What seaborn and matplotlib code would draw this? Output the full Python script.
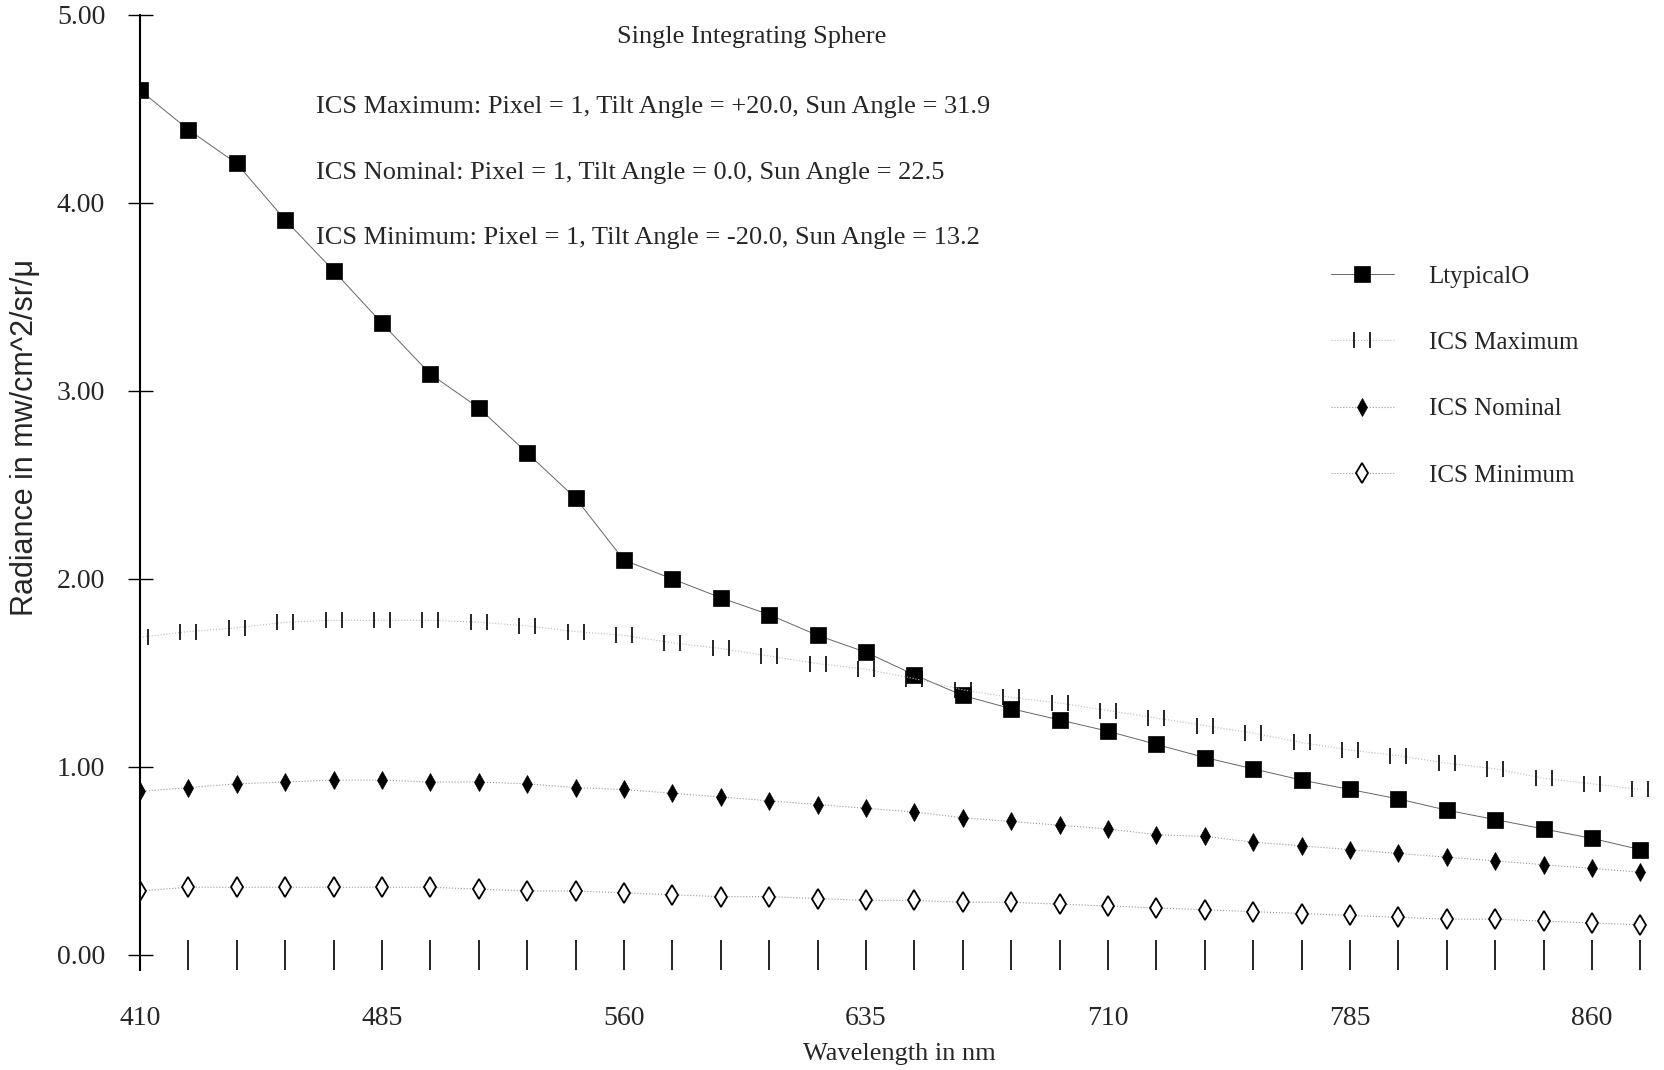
import matplotlib
matplotlib.use("Agg")
import matplotlib.pyplot as plt
from matplotlib.path import Path
import seaborn as sns

# wavelength in nm, one point every 15 nm
wavelength = [410, 425, 440, 455, 470, 485, 500, 515, 530, 545, 560, 575, 590, 605, 620, 635,
              650, 665, 680, 695, 710, 725, 740, 755, 770, 785, 800, 815, 830, 845, 860, 875]

# radiance in mw/cm^2/sr/u
ltypical = [4.60, 4.39, 4.21, 3.91, 3.64, 3.36, 3.09, 2.91, 2.67, 2.43, 2.10, 2.00, 1.90, 1.81, 1.70, 1.61,
            1.49, 1.38, 1.31, 1.25, 1.19, 1.12, 1.05, 0.99, 0.93, 0.88, 0.83, 0.77, 0.72, 0.67, 0.62, 0.56]
ics_max = [1.69, 1.72, 1.74, 1.77, 1.78, 1.78, 1.78, 1.77, 1.75, 1.72, 1.70, 1.66, 1.63, 1.59, 1.55, 1.52,
           1.47, 1.41, 1.37, 1.34, 1.30, 1.26, 1.22, 1.18, 1.13, 1.09, 1.06, 1.02, 0.99, 0.94, 0.91, 0.88]
ics_nom = [0.87, 0.89, 0.91, 0.92, 0.93, 0.93, 0.92, 0.92, 0.91, 0.89, 0.88, 0.86, 0.84, 0.82, 0.80, 0.78,
           0.76, 0.73, 0.71, 0.69, 0.67, 0.64, 0.63, 0.60, 0.58, 0.56, 0.54, 0.52, 0.50, 0.48, 0.46, 0.44]
ics_min = [0.34, 0.36, 0.36, 0.36, 0.36, 0.36, 0.36, 0.35, 0.34, 0.34, 0.33, 0.32, 0.31, 0.31, 0.30, 0.29,
           0.29, 0.28, 0.28, 0.27, 0.26, 0.25, 0.24, 0.23, 0.22, 0.21, 0.20, 0.19, 0.19, 0.18, 0.17, 0.16]

x_labels = ["410", "485", "560", "635", "710", "785", "860"]
y_ticks = [0, 1, 2, 3, 4, 5]

notes = ["ICS Maximum: Pixel = 1, Tilt Angle = +20.0, Sun Angle = 31.9",
         "ICS Nominal: Pixel = 1, Tilt Angle = 0.0, Sun Angle = 22.5",
         "ICS Minimum: Pixel = 1, Tilt Angle = -20.0, Sun Angle = 13.2"]

sns.set_style("ticks")
plt.rcParams['font.family'] = ['Liberation Serif', 'DejaVu Serif']

fig = plt.figure(figsize=(16.64, 10.70), dpi=100)
ax = fig.add_axes([0.0841, 0.0935, 0.9114, 0.8925])

# open-square marker that only shows its two sides, like the scan
bars = Path([(-1, -1), (-1, 1), (1, -1), (1, 1)],
            [Path.MOVETO, Path.LINETO, Path.MOVETO, Path.LINETO])

sns.lineplot(x=wavelength, y=ltypical, ax=ax, color='#666666', lw=0.7,
             marker='s', markersize=11.5, markerfacecolor='black', markeredgecolor='black',
             markeredgewidth=0.5, label='LtypicalO')
sns.lineplot(x=wavelength, y=ics_max, ax=ax, color='#bbbbbb', lw=0.8, linestyle=':',
             marker=bars, markersize=11, markeredgecolor='black', markeredgewidth=1.2,
             label='ICS Maximum')
sns.lineplot(x=wavelength, y=ics_nom, ax=ax, color='#999999', lw=0.8, linestyle=':',
             marker='d', markersize=9, markerfacecolor='black', markeredgecolor='black',
             markeredgewidth=0.5, label='ICS Nominal')
sns.lineplot(x=wavelength, y=ics_min, ax=ax, color='#999999', lw=0.8, linestyle=':',
             marker='d', markersize=10, markerfacecolor='white', markeredgecolor='black',
             markeredgewidth=1.3, label='ICS Minimum')

ax.set_xlim(410, 880)
ax.set_ylim(-0.08, 5.0)

ax.spines['top'].set_visible(False)
ax.spines['right'].set_visible(False)
ax.spines['left'].set_linewidth(1.5)
ax.spines['left'].set_color('black')
ax.spines['bottom'].set_position(('data', 0))
ax.spines['bottom'].set_visible(False)

ax.set_xticks(wavelength)
ax.set_xticklabels([str(w) if str(w) in x_labels else '' for w in wavelength])
ax.tick_params(axis='x', direction='inout', length=22, width=1.2, color='black',
               pad=26, labelsize=20)
ax.set_yticks(y_ticks)
ax.set_yticklabels(["%.2f" % v for v in y_ticks])
ax.tick_params(axis='y', direction='inout', length=18, width=1.0, color='black',
               pad=16, labelsize=20)

ax.set_xlabel("Wavelength in nm", fontsize=19)
ax.xaxis.set_label_coords(0.501, -0.076)
ax.set_ylabel("Radiance in mw/cm^2/sr/\u03bc", fontsize=22, family=['Liberation Sans', 'DejaVu Sans'])
ax.yaxis.set_label_coords(-0.066, 0.558)

fig.text(0.452, 0.965, "Single Integrating Sphere", fontsize=19, ha='center', va='center')
for note, yy in zip(notes, [0.900, 0.838, 0.778]):
    fig.text(0.190, yy, note, fontsize=19, ha='left', va='center')

ax.legend(loc='upper left', bbox_to_anchor=(0.800, 0.752), bbox_transform=fig.transFigure,
          frameon=False, fontsize=18, handlelength=2.5, handletextpad=1.4,
          labelspacing=1.75, borderpad=0, borderaxespad=0)

fig.savefig("out.png", dpi=100, facecolor='white')
